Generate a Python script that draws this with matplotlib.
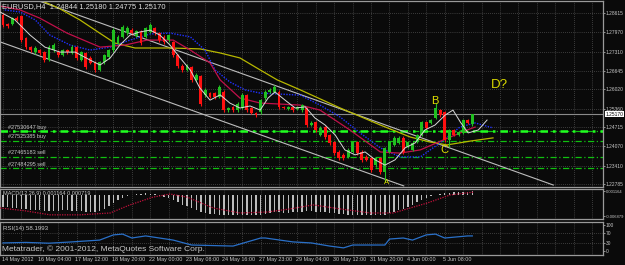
import numpy as np
import matplotlib.pyplot as plt
from matplotlib import transforms as mtrans

# EURUSD H4 candles (bar 0 = 14 May 2012)
opens = [1.2856, 1.2825, 1.2825, 1.2845, 1.2852, 1.2777, 1.2746, 1.2729, 1.2736, 1.2729,
         1.2702, 1.2736, 1.2729, 1.2719, 1.2736, 1.2726, 1.2746, 1.2702, 1.2726, 1.2709,
         1.2692, 1.2668, 1.2695, 1.2712, 1.2736, 1.2760, 1.2781, 1.2794, 1.2805, 1.2784,
         1.2798, 1.2781, 1.2798, 1.2811, 1.2794, 1.2781, 1.2770, 1.2763, 1.2719, 1.2682,
         1.2668, 1.2678, 1.2634, 1.2647, 1.2582, 1.2589, 1.2589, 1.2576, 1.2593, 1.2531,
         1.2541, 1.2531, 1.2538, 1.2582, 1.2538, 1.2521, 1.2524, 1.2572, 1.2593, 1.2593,
         1.2593, 1.2541, 1.2535, 1.2541, 1.2535, 1.2531, 1.2538, 1.2480, 1.2490, 1.2446,
         1.2473, 1.2446, 1.2422, 1.2388, 1.2378, 1.2371, 1.2388, 1.2422, 1.2388, 1.2371,
         1.2367, 1.2343, 1.2367, 1.2320, 1.2388, 1.2412, 1.2419, 1.2436, 1.2405, 1.2395,
         1.2422, 1.2446, 1.2490, 1.2487, 1.2504, 1.2531, 1.2524, 1.2429, 1.2463, 1.2446,
         1.2453, 1.2497, 1.2484]
highs = [1.2862, 1.2830, 1.2850, 1.2852, 1.2856, 1.2782, 1.2751, 1.2749, 1.2741, 1.2733,
         1.2752, 1.2760, 1.2735, 1.2741, 1.2740, 1.2752, 1.2750, 1.2734, 1.2731, 1.2714,
         1.2697, 1.2700, 1.2724, 1.2741, 1.2812, 1.2787, 1.2822, 1.2817, 1.2810, 1.2806,
         1.2803, 1.2816, 1.2830, 1.2816, 1.2799, 1.2786, 1.2792, 1.2768, 1.2724, 1.2687,
         1.2688, 1.2683, 1.2657, 1.2652, 1.2606, 1.2594, 1.2594, 1.2616, 1.2598, 1.2543,
         1.2546, 1.2557, 1.2588, 1.2587, 1.2543, 1.2526, 1.2570, 1.2598, 1.2605, 1.2616,
         1.2598, 1.2546, 1.2546, 1.2546, 1.2546, 1.2553, 1.2543, 1.2492, 1.2495, 1.2475,
         1.2478, 1.2451, 1.2427, 1.2393, 1.2383, 1.2400, 1.2427, 1.2427, 1.2393, 1.2376,
         1.2372, 1.2372, 1.2372, 1.2405, 1.2427, 1.2441, 1.2441, 1.2441, 1.2427, 1.2424,
         1.2451, 1.2495, 1.2495, 1.2502, 1.2556, 1.2536, 1.2529, 1.2468, 1.2468, 1.2461,
         1.2502, 1.2502, 1.2518]
lows = [1.2815, 1.2812, 1.2820, 1.2834, 1.2764, 1.2740, 1.2731, 1.2724, 1.2720, 1.2695,
        1.2698, 1.2731, 1.2713, 1.2714, 1.2724, 1.2721, 1.2703, 1.2698, 1.2672, 1.2687,
        1.2661, 1.2663, 1.2690, 1.2707, 1.2731, 1.2755, 1.2776, 1.2789, 1.2789, 1.2779,
        1.2754, 1.2776, 1.2793, 1.2789, 1.2765, 1.2758, 1.2765, 1.2713, 1.2676, 1.2662,
        1.2663, 1.2628, 1.2629, 1.2545, 1.2577, 1.2571, 1.2570, 1.2571, 1.2525, 1.2526,
        1.2526, 1.2526, 1.2533, 1.2525, 1.2516, 1.2508, 1.2519, 1.2567, 1.2588, 1.2588,
        1.2535, 1.2533, 1.2530, 1.2526, 1.2530, 1.2526, 1.2474, 1.2475, 1.2457, 1.2441,
        1.2433, 1.2413, 1.2378, 1.2361, 1.2362, 1.2366, 1.2383, 1.2378, 1.2355, 1.2356,
        1.2320, 1.2338, 1.2314, 1.2285, 1.2383, 1.2407, 1.2414, 1.2382, 1.2400, 1.2390,
        1.2417, 1.2441, 1.2465, 1.2482, 1.2499, 1.2509, 1.2423, 1.2405, 1.2441, 1.2441,
        1.2448, 1.2482, 1.2478]
closes = [1.2822, 1.2818, 1.2845, 1.2839, 1.2770, 1.2746, 1.2736, 1.2743, 1.2726, 1.2702,
          1.2746, 1.2753, 1.2719, 1.2736, 1.2729, 1.2746, 1.2709, 1.2729, 1.2678, 1.2692,
          1.2668, 1.2695, 1.2719, 1.2736, 1.2805, 1.2781, 1.2815, 1.2811, 1.2794, 1.2801,
          1.2760, 1.2811, 1.2822, 1.2794, 1.2770, 1.2763, 1.2787, 1.2719, 1.2682, 1.2668,
          1.2682, 1.2634, 1.2651, 1.2552, 1.2600, 1.2576, 1.2576, 1.2610, 1.2531, 1.2538,
          1.2531, 1.2552, 1.2582, 1.2531, 1.2521, 1.2514, 1.2565, 1.2593, 1.2600, 1.2610,
          1.2541, 1.2538, 1.2541, 1.2531, 1.2541, 1.2548, 1.2480, 1.2487, 1.2463, 1.2470,
          1.2439, 1.2419, 1.2384, 1.2367, 1.2367, 1.2395, 1.2422, 1.2384, 1.2361, 1.2361,
          1.2326, 1.2367, 1.2320, 1.2401, 1.2422, 1.2436, 1.2436, 1.2388, 1.2422, 1.2419,
          1.2446, 1.2490, 1.2470, 1.2497, 1.2538, 1.2514, 1.2429, 1.2463, 1.2446, 1.2456,
          1.2497, 1.2487, 1.2517]

# moving averages (bar position, price)
fast_x = [-0.65, 2.6, 5.9, 9.1, 12.4, 15.7, 18.9, 21.1, 23.3, 25.4, 27.6, 29.8, 32, 34.1,
          36.3, 38.5, 40.7, 42.8, 45, 47.2, 49.3, 51.5, 53.7, 55.9, 57.6, 59.1, 61.3, 63.5,
          65.7, 67.8, 70, 72.2, 74.3, 76.5, 78.7, 80.9, 83, 85.2, 87.4, 89.6, 91.7, 93.9,
          96.1, 97.8, 99.4, 101.1, 103.3, 105.2]
fast_p = [1.2866, 1.2839, 1.2787, 1.2746, 1.2729, 1.2729, 1.2702, 1.2685, 1.2709, 1.2753,
          1.2787, 1.2798, 1.2804, 1.2787, 1.2753, 1.2709, 1.2668, 1.2606, 1.2565, 1.2583,
          1.2555, 1.2538, 1.2545, 1.2531, 1.2572, 1.2593, 1.2565, 1.2538, 1.2542, 1.2504,
          1.2480, 1.2446, 1.2395, 1.2378, 1.2388, 1.2361, 1.2343, 1.2361, 1.2402, 1.2419,
          1.2463, 1.2480, 1.2514, 1.2531, 1.2490, 1.2453, 1.2463, 1.2497]
red_x = [-0.65, 1.5, 3.7, 8.0, 13.9, 21.1, 26.5, 31.3, 37.0, 40.7, 45.0, 47.2, 51.5, 55.9,
         64.6, 68.9, 75.4, 82.0, 86.3, 90.7, 95.7, 100.9, 102.6]
red_p = [1.2886, 1.2880, 1.2873, 1.2845, 1.2794, 1.2746, 1.2753, 1.2770, 1.2770, 1.2736,
         1.2692, 1.2634, 1.2572, 1.2555, 1.2548, 1.2531, 1.2463, 1.2388, 1.2384, 1.2395,
         1.2429, 1.2463, 1.2473]
blue_x = [0.4, 3.7, 7, 10.2, 14.6, 18.9, 23.3, 27.6, 32, 36.3, 40.7, 43.9, 46.1, 49.3,
          52.6, 55.9, 64.6, 68.9, 73.3, 77.6, 82, 86.3, 90.7, 95, 99.3, 102.6, 106.5]
blue_p = [1.2873, 1.2866, 1.2839, 1.2787, 1.2753, 1.2736, 1.2746, 1.2770, 1.2791, 1.2794,
          1.2781, 1.2736, 1.2668, 1.2627, 1.2600, 1.2589, 1.2582, 1.2548, 1.2507, 1.2453,
          1.2402, 1.2371, 1.2371, 1.2419, 1.2473, 1.2487, 1.2470]
yel_x = [8.0, 12, 16.7, 21, 24.3, 28.7, 36.3, 42.8, 47.2, 51.5, 55.9, 59.6, 64.6, 73.3,
         82, 88.5, 92.8, 96.5, 101.5, 106.5]
yel_p = [1.2907, 1.2880, 1.2839, 1.2794, 1.2760, 1.2743, 1.2743, 1.2740, 1.2726, 1.2709,
         1.2668, 1.2634, 1.2600, 1.2538, 1.2480, 1.2439, 1.2422, 1.2412, 1.2425, 1.2436]

# channel trend lines (end points)
upper_x = [7.2, 119.6]
upper_p = [1.2907, 1.2275]
lower_x = [-0.65, 87.1]
lower_p = [1.2764, 1.2272]

# order lines
orders = [1.2458, 1.2427, 1.2372, 1.2332]
order_labels = ['#27530647 buy', '#27525385 buy', '#27465183 sell', '#27484295 sell']
bid = 1.2517

price_ticks = [1.28615, 1.27970, 1.27310, 1.26645, 1.26020, 1.25360, 1.24715,
               1.24070, 1.23410, 1.22785]

# MACD histogram (x1e-4) and signal knots
macd = [-40, -41, -42, -43, -45, -47, -49, -50, -51, -52, -53, -52, -52, -51, -51, -52,
        -53, -54, -55, -56, -56, -53, -46, -37, -27, -17, -10, -4, 0, 2, 3, 4, 3, 1, -3,
        -7, -12, -18, -25, -32, -38, -44, -50, -56, -60, -62, -63, -64, -65, -65, -65,
        -65, -64, -64, -65, -65, -64, -62, -58, -56, -57, -58, -58, -57, -56, -55, -53,
        -53, -55, -56, -57, -58, -60, -62, -63, -64, -64, -64, -65, -65, -65, -65, -65,
        -64, -60, -55, -50, -45, -39, -32, -25, -18, -11, -6, -1, 3, 5, 4, 7, 8, 9, 10, 12]
sig_x = [-0.65, 4.8, 10.2, 16.7, 23.3, 27.6, 32.6, 36.3, 40, 45.7, 51.5, 57.4, 62.4,
         67.4, 73.3, 79.8, 84.8, 92.2, 97.2, 102.2]
sig_v = [-43, -52, -65, -65, -59, -33, -8, 2, -8, -43, -59, -56, -46, -33, -46, -59, -59,
         -27, -1, 8]

# RSI knots
rsi_x = [0, 5, 10, 15, 21, 24, 26, 28, 31, 34, 37, 41, 50, 56, 57, 63, 67, 71, 74, 76,
         81, 83, 84, 87, 89, 92, 94, 96, 101, 102]
rsi_v = [31, 33, 30, 35, 42, 62, 65, 50, 58, 50, 42, 23, 19, 50, 50, 35, 31, 19, 12, 23,
         23, 23, 46, 50, 42, 62, 65, 50, 58, 58]

time_labels = ['14 May 2012', '16 May 04:00', '17 May 12:00', '18 May 20:00',
               '22 May 00:00', '23 May 08:00', '24 May 16:00', '27 May 23:00',
               '29 May 04:00', '30 May 12:00', '31 May 20:00', '4 Jun 00:00', '5 Jun 08:00']

BG = '#0a0a0a'
TXT = '#c8c8c8'
GRID = '#6a6a6a'
FS = 4.0
AX_FS = 3.5
plt.rcParams['font.family'] = ['Liberation Sans', 'DejaVu Sans']

W, H = 625, 265
fig = plt.figure(figsize=(W / 100, H / 100), dpi=100, facecolor=BG)


def panel(top, bottom):
    ax = fig.add_axes([0, 1 - bottom / H, 603 / W, (bottom - top) / H], facecolor=BG)
    for s in ax.spines.values():
        s.set_color('#9a9a9a')
        s.set_linewidth(0.9)
    ax.set_xlim(-0.65, 130.4)
    ax.set_xticks([])
    ax.yaxis.tick_right()
    ax.tick_params(axis='y', colors=TXT, labelsize=AX_FS, length=1.5, width=0.5, pad=0.6)
    for g in np.arange(0, 131, 4):
        ax.axvline(g, color=GRID, lw=0.5, ls=(0, (1, 2)), zorder=0)
    return ax


idx = np.arange(len(closes))
o = np.array(opens)
c = np.array(closes)

# main price window
ax = panel(1, 186.5)
ax.set_ylim(1.2270, 1.29035)
ax.set_yticks(price_ticks)
ax.set_yticklabels(['%.5f' % p for p in price_ticks])
for p in price_ticks:
    ax.axhline(p, color=GRID, lw=0.5, ls=(0, (1, 2)), zorder=0)

for p, lab in zip(orders, order_labels):
    ax.axhline(p, color='#10c010', lw=0.9, ls=(0, (5, 2, 1, 2)), zorder=1)
    ax.text(1, p + 0.0004, lab, color=TXT, fontsize=FS, va='bottom', ha='left')
ax.axhline(orders[0], color='#20ff20', lw=1.8, ls=(0, (3, 2, 1, 2)), zorder=1)
ax.axhline(bid, color='#8a8a8a', lw=0.8, zorder=1)

ax.plot(upper_x, upper_p, color='#bdbdbd', lw=0.8, zorder=2)
ax.plot(lower_x, lower_p, color='#bdbdbd', lw=0.8, zorder=2)
ax.plot(yel_x, yel_p, color='#b8b800', lw=0.9, zorder=2)
ax.plot(blue_x, blue_p, color='#2030ff', lw=1.0, ls=(0, (1, 1)), zorder=2)
ax.plot(red_x, red_p, color='#c0104a', lw=0.9, zorder=2)

up = c >= o
col = np.where(up, '#20c020', '#ff1010')
ax.vlines(idx, lows, highs, colors=col, lw=0.8, zorder=3)
ax.bar(idx, np.abs(c - o) + 0.00005, bottom=np.minimum(o, c), width=0.62, color=col, zorder=3)
ax.plot(fast_x, fast_p, color='#d8d8d8', lw=0.7, zorder=4)

ax.text(83.4, 1.2283, 'A', color='#e0e000', fontsize=5.5, ha='center', va='center')
ax.text(93.9, 1.2563, 'B', color='#e0e000', fontsize=8, ha='center', va='center')
ax.text(95.9, 1.2395, 'C', color='#e0e000', fontsize=8, ha='center', va='center')
ax.text(108, 1.2617, 'D?', color='#d8d800', fontsize=9.5, ha='center', va='center')
ax.text(0.004, 0.972, 'EURUSD,H4  1.24844 1.25180 1.24775 1.25170', transform=ax.transAxes,
        color='#e0e0e0', fontsize=5.4, va='center', ha='left')
tr = mtrans.blended_transform_factory(ax.transAxes, ax.transData)
ax.text(1.004, bid, '1.25170', transform=tr, color='black', fontsize=AX_FS, va='center',
        ha='left', bbox=dict(boxstyle='square,pad=0.1', fc='white', ec='none'))

# MACD window
ax2 = panel(188.5, 219)
ax2.set_ylim(-0.00784, 0.00197)
ax2.set_yticks([0.001164, -0.006879])
ax2.set_yticklabels(['0.001164', '-0.006879'], fontsize=3.0)
ax2.bar(idx, np.array(macd) * 1e-4, width=0.3, color='#bcbcbc', zorder=2)
ax2.plot(sig_x, np.array(sig_v) * 1e-4, color='#c0103a', lw=0.9, ls=(0, (1, 1)), zorder=3)
ax2.text(0.005, 0.84, 'MACD(12,26,9) 0.001164 0.000719', transform=ax2.transAxes,
         color=TXT, fontsize=FS, va='center', ha='left')

# RSI window
ax3 = panel(221.5, 255)
ax3.set_ylim(-15.4, 113.5)
ax3.set_yticks([100, 70, 30, 0])
ax3.set_yticklabels(['100', '70', '30', '0'])
for lv in (70, 30):
    ax3.axhline(lv, color=GRID, lw=0.5, ls=(0, (1, 2)), zorder=0)
ax3.plot(rsi_x, rsi_v, color='#2a70c8', lw=0.9, zorder=2)
ax3.text(0.005, 0.8, 'RSI(14) 58.1993', transform=ax3.transAxes, color=TXT,
         fontsize=FS + 0.4, va='center', ha='left')
ax3.text(0.004, 0.18, 'Metatrader, \u00a9 2001-2012, MetaQuotes Software Corp.',
         transform=ax3.transAxes, color=TXT, fontsize=6.0, va='center', ha='left')
trx = mtrans.blended_transform_factory(ax3.transData, ax3.transAxes)
for k, lab in enumerate(time_labels):
    ax3.text(8 * k - 0.3, -0.12, lab, transform=trx, color=TXT, fontsize=3.9,
             va='center', ha='left', clip_on=False)

fig.savefig('out.png', dpi=100, facecolor=BG)
